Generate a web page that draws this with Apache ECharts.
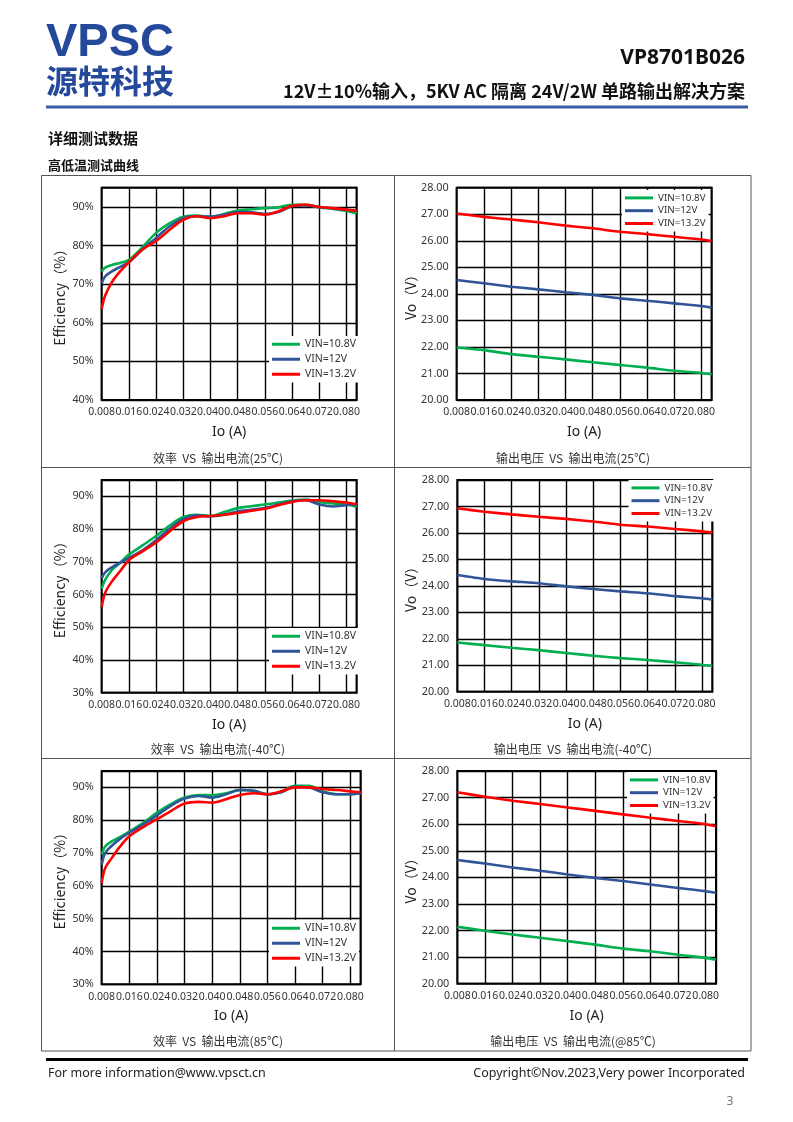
<!DOCTYPE html>
<html>
<head>
<meta charset="utf-8">
<style>
  html, body { margin: 0; padding: 0; background: #fff; }
  #page { width: 793px; height: 1122px; }
</style>
</head>
<body>
<div id="page"></div>
<script src="https://cdn.jsdelivr.net/npm/echarts@6.0.0/dist/echarts.min.js"></script>
<script>
// ---- data ----
var seriesNames = ['VIN=10.8V', 'VIN=12V', 'VIN=13.2V'];
var lineColors = ['#00b050', '#2f5597', '#ff0000'];

// output current (A)
var xMin = 0.008, xMax = 0.083, xStep = 0.008;
var ioEff = [0.008, 0.009, 0.011, 0.0134, 0.016, 0.020, 0.024, 0.028, 0.032, 0.036, 0.040,
             0.044, 0.048, 0.052, 0.056, 0.060, 0.064, 0.068, 0.072, 0.076, 0.080, 0.083];
var ioVo = [0.008, 0.016, 0.024, 0.032, 0.040, 0.048, 0.056, 0.064, 0.072, 0.080, 0.083];

// efficiency (%) at 25C
var eff25_108 = [73.3, 74.3, 75.0, 75.5, 76.3, 79.6, 83.3, 85.8, 87.5, 87.8, 87.4, 88.2, 89.1, 89.4, 89.7, 89.9, 90.6, 90.6, 89.9, 89.5, 89.0, 88.4];
var eff25_12  = [70.2, 72.0, 73.3, 74.5, 75.7, 79.0, 82.0, 85.0, 87.1, 87.6, 87.5, 88.0, 88.7, 88.6, 88.2, 88.7, 90.2, 90.4, 90.0, 89.6, 89.3, 89.0];
var eff25_132 = [63.6, 67.0, 70.5, 73.3, 75.7, 79.0, 81.2, 84.1, 86.7, 87.6, 87.1, 87.6, 88.4, 88.4, 88.0, 88.9, 90.3, 90.6, 90.0, 89.7, 89.3, 89.0];
// efficiency (%) at -40C
var effM40_108 = [61.8, 64.5, 67.5, 69.7, 72.2, 75.0, 77.9, 81.1, 83.7, 84.4, 84.0, 85.2, 86.4, 87.0, 87.5, 88.1, 88.7, 89.0, 88.3, 87.8, 87.5, 86.8];
var effM40_12  = [65.0, 66.8, 68.3, 69.7, 71.2, 73.5, 76.6, 80.1, 83.0, 84.2, 83.9, 84.4, 85.4, 85.9, 86.4, 87.5, 88.5, 88.8, 87.5, 86.9, 87.3, 87.5];
var effM40_132 = [56.2, 60.5, 64.0, 67.1, 70.5, 73.2, 75.9, 79.3, 82.4, 83.7, 84.0, 84.4, 84.9, 85.6, 86.2, 87.3, 88.3, 88.8, 88.8, 88.5, 88.1, 87.6];
// efficiency (%) at 85C
var eff85_108 = [69.5, 72.0, 73.6, 74.9, 76.5, 79.2, 82.3, 84.9, 86.9, 87.7, 87.6, 88.2, 89.2, 89.0, 87.9, 88.7, 90.5, 90.5, 88.8, 87.9, 87.9, 88.2];
var eff85_12  = [66.4, 70.0, 72.3, 74.4, 76.2, 78.7, 81.5, 84.4, 86.6, 87.4, 86.9, 87.9, 89.2, 89.0, 87.9, 88.5, 90.2, 90.0, 88.5, 87.9, 87.9, 88.2];
var eff85_132 = [60.8, 65.4, 68.6, 72.1, 75.1, 77.9, 80.3, 82.8, 85.1, 85.6, 85.4, 86.4, 87.7, 88.2, 87.9, 88.8, 90.0, 90.0, 89.5, 89.2, 88.8, 88.5];

// output voltage (V)
var vo25_108 = [21.98, 21.88, 21.73, 21.63, 21.53, 21.42, 21.32, 21.22, 21.10, 21.02, 20.97];
var vo25_12  = [24.52, 24.40, 24.27, 24.17, 24.06, 23.96, 23.83, 23.74, 23.64, 23.54, 23.48];
var vo25_132 = [27.03, 26.90, 26.80, 26.70, 26.57, 26.47, 26.34, 26.25, 26.15, 26.05, 25.99];
var voM40_108 = [21.86, 21.76, 21.66, 21.57, 21.46, 21.36, 21.27, 21.20, 21.11, 21.02, 20.97];
var voM40_12  = [24.41, 24.26, 24.17, 24.10, 23.98, 23.88, 23.79, 23.72, 23.61, 23.53, 23.48];
var voM40_132 = [26.93, 26.80, 26.70, 26.61, 26.53, 26.43, 26.31, 26.24, 26.15, 26.06, 26.01];
var vo85_108 = [22.14, 21.99, 21.85, 21.73, 21.60, 21.47, 21.32, 21.22, 21.09, 20.97, 20.90];
var vo85_12  = [24.65, 24.52, 24.37, 24.25, 24.11, 23.98, 23.86, 23.73, 23.60, 23.48, 23.42];
var vo85_132 = [27.20, 27.03, 26.88, 26.76, 26.63, 26.50, 26.37, 26.24, 26.12, 26.00, 25.92];

var captions = ['效率  VS  输出电流(25℃)', '输出电压  VS  输出电流(25℃)',
                '效率  VS  输出电流(-40℃)', '输出电压  VS  输出电流(-40℃)',
                '效率  VS  输出电流(85℃)', '输出电压  VS  输出电流(@85℃)'];

// ---- layout of the six panels (page pixels) ----
var panels = [
  { kind: 'eff', yMin: 40, x: 101.7, y: 187.7, w: 255, h: 212.3, lx: 269, ly: 336, vals: [eff25_108, eff25_12, eff25_132], cx: 218, cy: 458 },
  { kind: 'vo', yMin: 20, x: 456.7, y: 187.7, w: 255, h: 212.3, lx: 622, ly: 190, vals: [vo25_108, vo25_12, vo25_132], cx: 573, cy: 458 },
  { kind: 'eff', yMin: 30, x: 101.7, y: 480, w: 255, h: 212.7, lx: 269, ly: 628, vals: [effM40_108, effM40_12, effM40_132], cx: 218, cy: 749 },
  { kind: 'vo', yMin: 20, x: 457.3, y: 480, w: 255, h: 211.7, lx: 628.5, ly: 480, vals: [voM40_108, voM40_12, voM40_132], cx: 573, cy: 749 },
  { kind: 'eff', yMin: 30, x: 101.7, y: 771, w: 259, h: 213.3, lx: 269, ly: 920, vals: [eff85_108, eff85_12, eff85_132], cx: 218, cy: 1041 },
  { kind: 'vo', yMin: 20, x: 457.3, y: 771, w: 258.7, h: 212.7, lx: 627, ly: 772, vals: [vo85_108, vo85_12, vo85_132], cx: 573, cy: 1041 }
];

var FONT = '"Noto Sans", "Noto Sans CJK SC", sans-serif';
var CJK = '"Noto Sans CJK SC", "Noto Sans", sans-serif';

var grids = [], xAxes = [], yAxes = [], series = [], legends = [];
var graphics = [];

panels.forEach(function (p, i) {
  var eff = p.kind === 'eff';
  grids.push({
    left: p.x, top: p.y, width: p.w, height: p.h,
    show: true, borderColor: '#000', borderWidth: 2, backgroundColor: 'transparent',
    containLabel: false, outerBoundsMode: 'none'
  });
  xAxes.push({
    type: 'value', gridIndex: i, min: xMin, max: xMax, interval: xStep,
    axisLine: { show: false }, axisTick: { show: false },
    splitLine: { show: true, lineStyle: { color: '#000', width: 1.4 } },
    axisLabel: {
      formatter: function (v) { return v.toFixed(3); },
      showMaxLabel: false, margin: 7, fontSize: 10.5, color: '#333', fontFamily: FONT
    },
    name: 'Io (A)', nameLocation: 'middle', nameGap: 25,
    nameTextStyle: { fontSize: 14, color: '#222', fontFamily: FONT }
  });
  yAxes.push({
    type: 'value', gridIndex: i,
    min: p.yMin, max: eff ? 95 : 28, interval: eff ? 10 : 1,
    axisLine: { show: false }, axisTick: { show: false },
    splitLine: { show: true, lineStyle: { color: '#000', width: 1.4 } },
    axisLabel: {
      formatter: eff ? function (v) { return v + '%'; } : function (v) { return v.toFixed(2); },
      showMaxLabel: eff ? false : true, margin: 8, fontSize: 10.8, color: '#333', fontFamily: FONT
    },
    name: eff ? 'Efficiency（%）' : 'Vo（V）', nameLocation: 'middle', nameGap: eff ? 35 : 34,
    nameTextStyle: { fontSize: 14, color: '#222', fontFamily: CJK }
  });
  var xs = eff ? ioEff : ioVo;
  p.vals.forEach(function (arr, k) {
    series.push({
      name: seriesNames[k], type: 'line', xAxisIndex: i, yAxisIndex: i,
      smooth: eff ? 0.35 : 0.2, showSymbol: false, symbol: 'none',
      lineStyle: { color: lineColors[k], width: 2.6 },
      itemStyle: { color: lineColors[k] },
      data: xs.map(function (x, j) { return [x, arr[j]]; }),
      z: 3 + k
    });
  });
  legends.push({
    data: seriesNames, orient: 'vertical', left: p.lx, top: p.ly,
    icon: 'rect', itemWidth: 28, itemHeight: 3,
    itemGap: eff ? 4.5 : 3, padding: [3, 3, 3, 3],
    backgroundColor: '#fff', selectedMode: false,
    textStyle: { fontSize: eff ? 10.5 : 9.8, color: '#333', fontFamily: FONT }
  });
  graphics.push({
    type: 'text', x: p.cx, y: p.cy,
    style: { text: captions[i], font: '12px ' + CJK, fill: '#333',
             textAlign: 'center', align: 'center', textVerticalAlign: 'middle', verticalAlign: 'middle' }
  });
});

// ---- page furniture: header, table, footer ----
function txt(x, y, s, font, fill, align) {
  return { type: 'text', x: x, y: y,
           style: { text: s, font: font, fill: fill, textAlign: align, align: align,
                    textVerticalAlign: 'middle', verticalAlign: 'middle' } };
}
graphics.push(txt(46, 43, 'VPSC', 'bold 47px "Liberation Sans", sans-serif', '#24489a', 'left'));
graphics.push(txt(46, 81, '源特科技', 'bold 32px ' + CJK, '#24489a', 'left'));
graphics.push(txt(745, 58, 'VP8701B026', 'bold 21px ' + FONT, '#111', 'right'));
graphics.push(txt(745, 91, '12V±10%输入，5KV AC 隔离 24V/2W 单路输出解决方案', 'bold 18px ' + CJK, '#111', 'right'));
graphics.push({ type: 'rect', shape: { x: 46, y: 105.5, width: 702, height: 3 }, style: { fill: '#3a5ba6' } });
graphics.push(txt(48, 138, '详细测试数据', 'bold 15px ' + CJK, '#111', 'left'));
graphics.push(txt(48, 165, '高低温测试曲线', 'bold 13px ' + CJK, '#111', 'left'));

// table borders
graphics.push({ type: 'rect', shape: { x: 41.5, y: 175.5, width: 709.5, height: 875.5 },
                style: { fill: 'none', stroke: '#555', lineWidth: 1 } });
graphics.push({ type: 'line', shape: { x1: 394.5, y1: 175.5, x2: 394.5, y2: 1051 }, style: { stroke: '#555', lineWidth: 1 } });
graphics.push({ type: 'line', shape: { x1: 41.5, y1: 467.5, x2: 751, y2: 467.5 }, style: { stroke: '#555', lineWidth: 1 } });
graphics.push({ type: 'line', shape: { x1: 41.5, y1: 758.5, x2: 751, y2: 758.5 }, style: { stroke: '#555', lineWidth: 1 } });

// footer
graphics.push({ type: 'rect', shape: { x: 46, y: 1058, width: 702, height: 3 }, style: { fill: '#000' } });
graphics.push(txt(48, 1073, 'For more information@www.vpsct.cn', '12.5px ' + FONT, '#222', 'left'));
graphics.push(txt(745, 1073, 'Copyright©Nov.2023,Very power Incorporated', '12.5px ' + FONT, '#222', 'right'));
graphics.push(txt(730, 1102, '3', '12px ' + FONT, '#777', 'center'));

var chart = echarts.init(document.getElementById('page'), null, { renderer: 'canvas' });
chart.setOption({
  animation: false,
  backgroundColor: '#fff',
  textStyle: { fontFamily: FONT },
  grid: grids,
  xAxis: xAxes,
  yAxis: yAxes,
  legend: legends,
  series: series,
  graphic: { elements: graphics }
});
</script>
</body>
</html>
